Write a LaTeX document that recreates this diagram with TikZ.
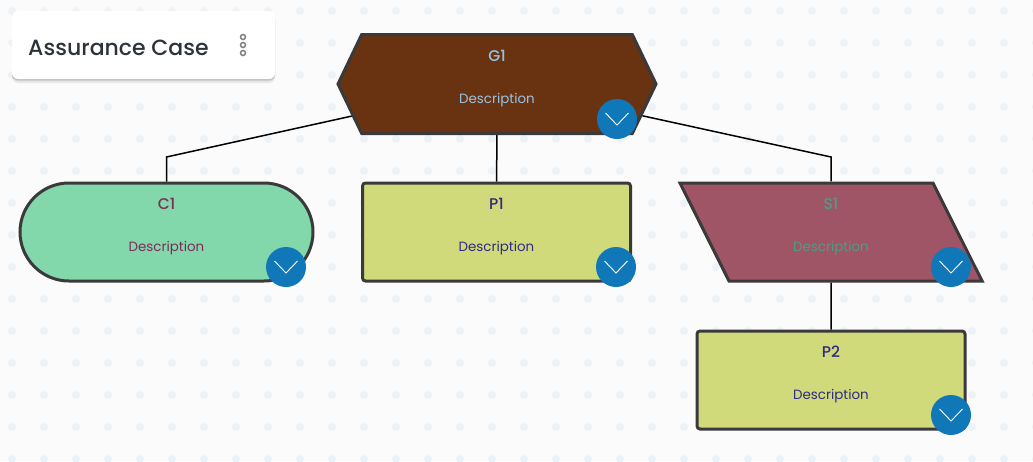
\documentclass[tikz,border=0pt]{standalone}
\usepackage{fontspec}
\setmainfont{Poppins}
\newfontfamily\mediumfont{Poppins Medium}
\usetikzlibrary{shapes.geometric, shapes.misc, shapes.symbols, shadows, calc}
\definecolor{canvasbg}{RGB}{251,251,252}
\definecolor{griddot}{RGB}{237,242,247}
\definecolor{edgegray}{RGB}{58,58,58}
\definecolor{badgeblue}{RGB}{16,119,184}
\definecolor{goalfill}{RGB}{105,51,18}
\definecolor{goaltext}{RGB}{150,195,228}
\definecolor{contextfill}{RGB}{130,215,171}
\definecolor{contexttext}{RGB}{125,43,91}
\definecolor{propfill}{RGB}{208,218,123}
\definecolor{proptext}{RGB}{47,42,133}
\definecolor{stratfill}{RGB}{160,85,102}
\definecolor{strattext}{RGB}{80,155,135}
\definecolor{titletext}{RGB}{45,50,60}

\begin{document}
\begin{tikzpicture}[
  x=1pt, y=-1pt,
  shapebox/.style={draw=edgegray, line width=3pt, inner sep=0pt,
                   minimum height=98pt},
  goalbox/.style={shapebox, signal, signal to=east and west,
                  signal pointer angle=128.8, fill=goalfill,
                  minimum width=318pt, minimum height=99pt},
  contextbox/.style={shapebox, rounded rectangle, fill=contextfill, minimum width=293pt},
  propbox/.style={shapebox, rounded corners=3pt, fill=propfill, minimum width=268pt},
  stratbox/.style={shapebox, trapezium, text width=204pt, text height=98pt, text depth=0pt,
                   trapezium left angle=116.6, trapezium right angle=63.4,
                   fill=stratfill},
  nametext/.style={font=\mediumfont\fontsize{15.5}{17}\selectfont, anchor=base, yshift=23pt, inner sep=0pt},
  desctext/.style={font=\fontsize{13.4}{15}\selectfont, anchor=base, yshift=-19.5pt, inner sep=0pt},
  badge/.style={circle, fill=badgeblue, minimum size=40pt, inner sep=0pt},
  chevron/.style={draw=white, line width=0.9pt},
  link/.style={draw=black, line width=1.5pt},
  griddots/.style={fill=griddot}
]
  \useasboundingbox (0,0) rectangle (1033,461);
  \fill[canvasbg] (0,0) rectangle (1033,461);
  \foreach \i in {0,...,32}
    \foreach \j in {0,...,14}
      \fill[griddots] (12+32*\i, 11+32*\j) circle (4pt);

  % title card
  \node[fill=white, rounded corners=6pt, minimum width=263pt, minimum height=68pt,
        inner sep=0pt, drop shadow={shadow xshift=0pt, shadow yshift=-1pt, opacity=.25},
        drop shadow={shadow xshift=0pt, shadow yshift=-2pt, opacity=.22},
        drop shadow={shadow xshift=0pt, shadow yshift=-4pt, opacity=.14}] (card) at (143.5,45) {};
  \node[font=\mediumfont\fontsize{22}{28}\selectfont, text=titletext, anchor=base west, inner sep=0pt] (cardname) at (28,55) {Assurance Case};
  \foreach \y in {37,45,53}
    \draw[gray, line width=1.5pt] (243,\y) circle (2.5pt);

  % case shapes
  \node[goalbox] (G1) at (497,84) {};
  \node[contextbox] (C1) at (166.5,232) {};
  \node[propbox] (P1) at (496.5,232) {};
  \node[stratbox] (S1) at (831,232) {};
  \node[propbox] (P2) at (831,380) {};
  \coordinate (C1elbow) at (166.5,157);
  \coordinate (S1elbow) at (831,157);

  \draw[link] (G1) -- (C1elbow) -- (C1);
  \draw[link] (G1) -- (P1);
  \draw[link] (G1) -- (S1elbow) -- (S1);
  \draw[link] (S1) -- (P2);

  \node[nametext, text=goaltext] (G1name) at (G1) {G1};
  \node[desctext, text=goaltext] (G1desc) at (G1) {Description};
  \node[nametext, text=contexttext] (C1name) at (C1) {C1};
  \node[desctext, text=contexttext] (C1desc) at (C1) {Description};
  \node[nametext, text=proptext] (P1name) at (P1) {P1};
  \node[desctext, text=proptext] (P1desc) at (P1) {Description};
  \node[nametext, text=strattext] (S1name) at (S1) {S1};
  \node[desctext, text=strattext] (S1desc) at (S1) {Description};
  \node[nametext, text=proptext] (P2name) at (P2) {P2};
  \node[desctext, text=proptext] (P2desc) at (P2) {Description};

  % expand buttons
  \node[badge] (G1btn) at (617,119) {};
  \node[badge] (C1btn) at (286,267) {};
  \node[badge] (P1btn) at (616,267) {};
  \node[badge] (S1btn) at (951,267) {};
  \node[badge] (P2btn) at (951,415) {};
  \foreach \b in {G1btn,C1btn,P1btn,S1btn,P2btn}
    \draw[chevron] ($(\b)+(-11.5,-6)$) -- ($(\b)+(0,6)$) -- ($(\b)+(11.5,-6)$);
\end{tikzpicture}
\end{document}
